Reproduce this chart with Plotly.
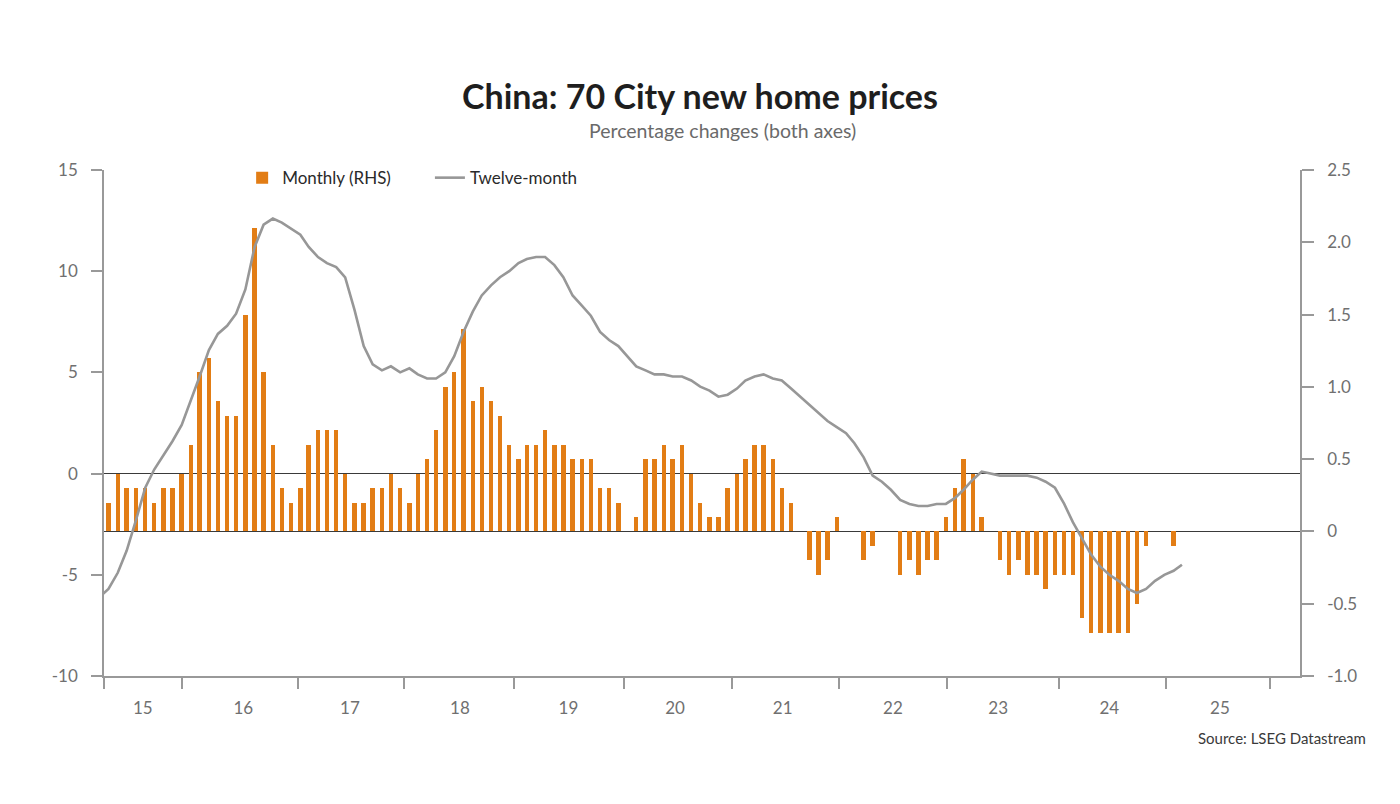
import pandas as pd
import plotly.graph_objects as go

# Monthly % change (RHS), May 2015 - Mar 2025
monthly = [0.2, 0.4, 0.3, 0.3, 0.3, 0.2, 0.3, 0.3, 0.4, 0.6, 1.1, 1.2, 0.9, 0.8, 0.8, 1.5,
           2.1, 1.1, 0.6, 0.3, 0.2, 0.3, 0.6, 0.7, 0.7, 0.7, 0.4, 0.2, 0.2, 0.3, 0.3, 0.4, 0.3,
           0.2, 0.4, 0.5, 0.7, 1.0, 1.1, 1.4, 0.9, 1.0, 0.9, 0.8, 0.6, 0.5, 0.6, 0.6, 0.7,
           0.6, 0.6, 0.5, 0.5, 0.5, 0.3, 0.3, 0.2, 0.0, 0.1, 0.5, 0.5, 0.6, 0.5, 0.6, 0.4, 0.2,
           0.1, 0.1, 0.3, 0.4, 0.5, 0.6, 0.6, 0.5, 0.3, 0.2, 0.0, -0.2, -0.3, -0.2, 0.1, 0.0,
           0.0, -0.2, -0.1, 0.0, 0.0, -0.3, -0.2, -0.3, -0.2, -0.2, 0.1, 0.3, 0.5, 0.4, 0.1, 0.0, -0.2,
           -0.3, -0.2, -0.3, -0.3, -0.4, -0.3, -0.3, -0.3, -0.6, -0.7, -0.7, -0.7, -0.7, -0.7,
           -0.5, -0.1, 0.0, 0.0, -0.1, 0.0]

# Twelve-month % change (LHS), Apr 2015 - Mar 2025
twelve = [-6.1,
          -5.7, -4.9, -3.8, -2.3, -0.7, 0.2, 0.9, 1.6, 2.4, 3.6, 4.8, 6.1, 6.9, 7.3, 7.9, 9.1,
          11.2, 12.3, 12.6, 12.4, 12.1, 11.8, 11.2, 10.7, 10.4, 10.2, 9.7, 8.1, 6.3, 5.4, 5.1, 5.3, 5.0,
          5.2, 4.9, 4.7, 4.7, 5.0, 5.8, 7.0, 8.0, 8.8, 9.3, 9.7, 10.0, 10.4, 10.6, 10.7, 10.7,
          10.3, 9.7, 8.8, 8.3, 7.8, 7.0, 6.6, 6.3, 5.8, 5.3, 5.1, 4.9, 4.9, 4.8, 4.8, 4.6, 4.3,
          4.1, 3.8, 3.9, 4.2, 4.6, 4.8, 4.9, 4.7, 4.6, 4.2, 3.8, 3.4, 3.0, 2.6, 2.3, 2.0,
          1.5, 0.8, -0.1, -0.4, -0.8, -1.3, -1.5, -1.6, -1.6, -1.5, -1.5, -1.2, -0.8, -0.3, 0.1, 0.0, -0.1,
          -0.1, -0.1, -0.1, -0.2, -0.4, -0.7, -1.5, -2.4, -3.2, -4.0, -4.6, -5.0, -5.3, -5.7,
          -5.9, -5.7, -5.3, -5.0, -4.8, -4.5]

bar_dates = pd.date_range('2015-05-01', periods=len(monthly), freq='MS')
line_dates = pd.date_range('2015-04-01', periods=len(twelve), freq='MS')

# year labels sit roughly mid-year, tick marks roughly at the year breaks (as in the source chart)
year_labels = ['15', '16', '17', '18', '19', '20', '21', '22', '23', '24', '25']
label_dates = ['2015-08-24', '2016-07-25', '2017-07-17', '2018-07-20', '2019-07-18',
               '2020-07-09', '2021-07-04', '2022-07-08', '2023-06-25', '2024-07-01', '2025-07-06']
year_ticks = ['2015-04-16', '2016-01-01', '2017-01-24', '2018-01-14', '2019-01-17', '2020-01-19',
              '2021-01-16', '2022-01-09', '2023-01-04', '2024-01-13', '2025-01-08', '2025-12-21']

lhs_ticks = [-10, -5, 0, 5, 10, 15]
lhs_text = ['-10', '-5', '0', '5', '10', '15']
rhs_ticks = [-1.0, -0.5, 0, 0.5, 1.0, 1.5, 2.0, 2.5]
rhs_text = ['-1.0', '-0.5', '0', '0.5', '1.0', '1.5', '2.0', '2.5']

grey = '#999999'
txt = '#707070'
font = 'Lato, Open Sans, sans-serif'

fig = go.Figure()

fig.add_trace(go.Bar(x=bar_dates, y=monthly, name='Monthly (RHS)',
                     marker_color='#E27D15', marker_line_width=0,
                     width=15 * 86400000, yaxis='y', legend='legend'))

fig.add_trace(go.Scatter(x=line_dates, y=twelve, name='Twelve-month', mode='lines',
                         line=dict(color='#979797', width=2.6), yaxis='y2', legend='legend2'))

# page has an 8px body margin, so the plot sits at 96..1292 x 162..668 inside the figure
fig.update_layout(
    width=1400, height=804,
    paper_bgcolor='white', plot_bgcolor='white',
    margin=dict(l=96, r=108, t=162, b=136),
    font=dict(family=font, color=txt, size=17),
    title=dict(text='<b>China: 70 City new home prices</b>', x=692 / 1400, xanchor='center',
               y=1 - 89 / 804, yanchor='middle',
               font=dict(size=34, color='#1e1e1e', family=font)),
    showlegend=True,
    legend=dict(orientation='h', x=0.1155, xanchor='left', y=0.984, yanchor='middle',
                font=dict(size=17, color='#2a2a2a'), bgcolor='rgba(0,0,0,0)'),
    legend2=dict(orientation='h', x=0.2725, xanchor='left', y=0.984, yanchor='middle',
                 font=dict(size=17, color='#2a2a2a'), bgcolor='rgba(0,0,0,0)'),
    bargap=0,
    xaxis=dict(type='date', range=['2015-04-16', '2026-03-31'],
               showline=True, linecolor=grey, linewidth=1.5, showgrid=False, zeroline=False,
               tickmode='array', tickvals=label_dates, ticktext=year_labels, ticks='',
               ticklabelstandoff=16, tickfont=dict(size=17, color=txt),
               minor=dict(tickmode='array', tickvals=year_ticks, ticks='outside',
                          ticklen=11, tickwidth=1.5, tickcolor=grey, showgrid=False)),
    # right axis: monthly bars
    yaxis=dict(side='right', range=[-1.0, 2.5], tickvals=rhs_ticks, ticktext=rhs_text,
               showline=True, linecolor=grey, linewidth=1.5, ticks='outside', ticklen=12,
               tickwidth=1.5, tickcolor=grey, showgrid=False,
               zeroline=True, zerolinecolor='#3a3a3a', zerolinewidth=1.2,
               ticklabelstandoff=10, tickfont=dict(size=17, color=txt)),
    # left axis: twelve-month line
    yaxis2=dict(overlaying='y', side='left', range=[-10, 15], tickvals=lhs_ticks, ticktext=lhs_text,
                showline=True, linecolor=grey, linewidth=1.5, ticks='outside', ticklen=11,
                tickwidth=1.5, tickcolor=grey, showgrid=False,
                zeroline=True, zerolinecolor='#3a3a3a', zerolinewidth=1.2,
                ticklabelstandoff=10, tickfont=dict(size=17, color=txt)),
    annotations=[
        dict(text='Percentage changes (both axes)', xref='paper', yref='paper',
             x=(714 - 96) / 1196, y=(668 - 122) / 506, xanchor='center', yanchor='middle',
             showarrow=False, font=dict(size=19.5, color='#6a6a6a')),
        dict(text='Source: LSEG Datastream', xref='paper', yref='paper',
             x=(1360 - 96) / 1196, y=(668 - 730) / 506, xanchor='right', yanchor='middle',
             showarrow=False, font=dict(size=15, color='#3a3a3a')),
    ],
)

fig.write_html('out.html')
